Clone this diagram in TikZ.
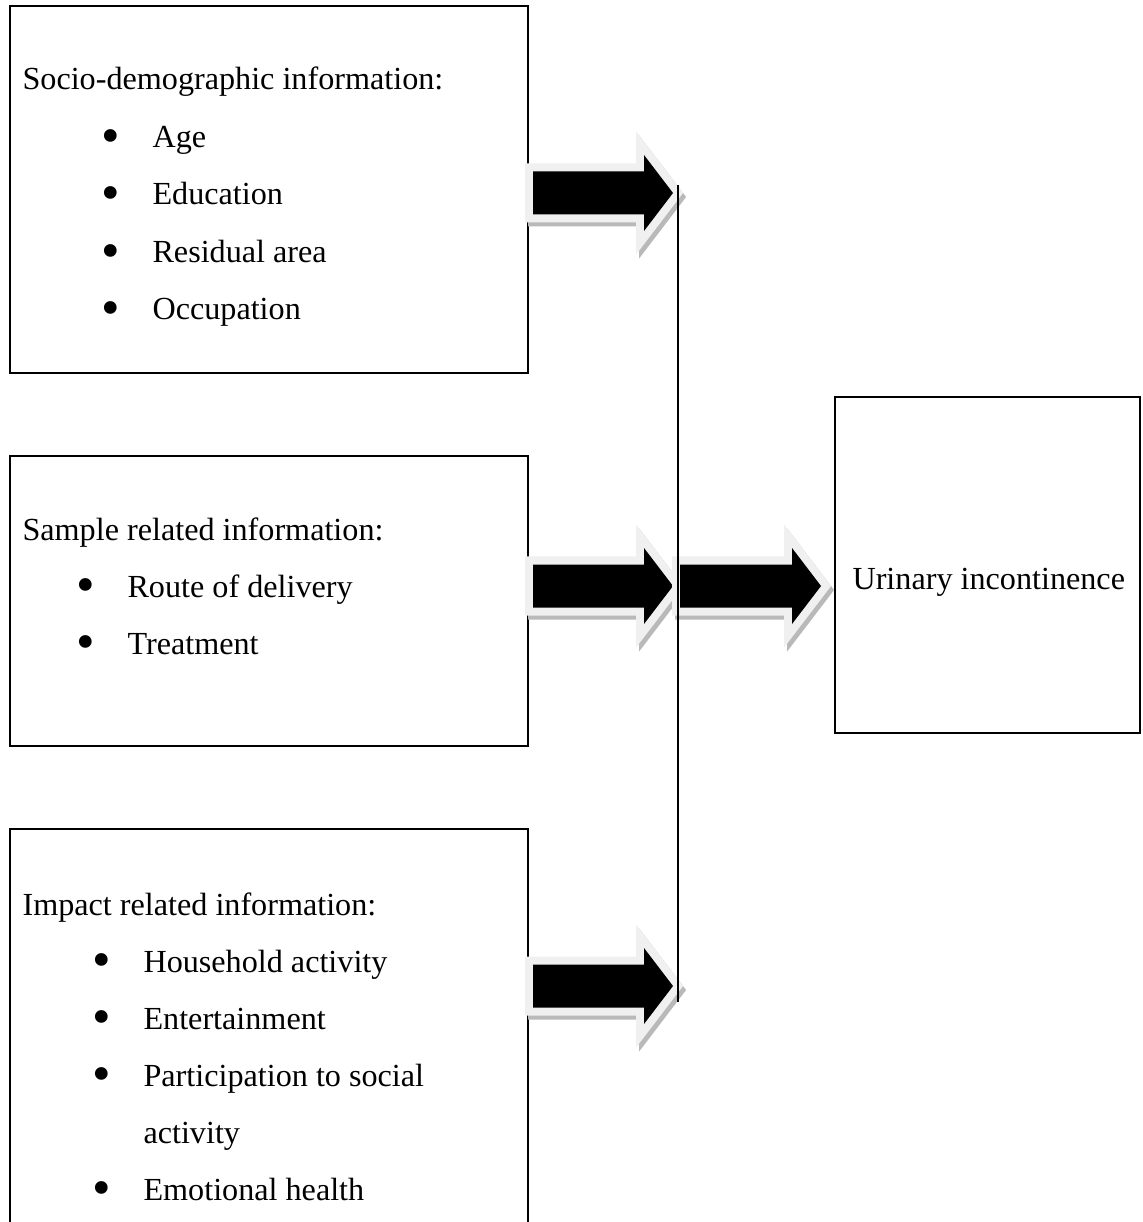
\documentclass[tikz,border=0pt]{standalone}
\usepackage{fontspec}
\setmainfont{Liberation Serif}
\usetikzlibrary{calc, fit, positioning}

% bullet hung in front of a list entry
\newcommand{\bul}{\llap{\raisebox{-2.2pt}{\scalebox{1.65}{\textbullet}}\hspace{12.2pt}}}
% outline of a fat block arrow from tail #1 to tip #2
\newcommand{\fatpath}[2]{($(#1)+(0,-21.5)$) -- ($(#2)+(-29,-21.5)$) -- ($(#2)+(-29,-38)$) -- (#2)
  -- ($(#2)+(-29,38)$) -- ($(#2)+(-29,21.5)$) -- ($(#1)+(0,21.5)$) -- cycle}
\newcommand{\fatarrow}[2]{%
  \draw[arrowshade] \fatpath{#1}{#2};
  \draw[arrowrim] \fatpath{#1}{#2};
  \fill[arrowbody] \fatpath{#1}{#2};
}

\begin{document}
\begin{tikzpicture}[x=0.373pt, y=-0.373pt, font=\fontsize{12}{14}\selectfont,
    box/.style={draw, line width=0.75pt, inner sep=0pt},
    txt/.style={anchor=base west, inner sep=0pt},
    arrowshade/.style={draw=gray!55, fill=gray!55, line width=5.97pt, line join=miter, transform canvas={shift={(3,4)}}},
    arrowrim/.style={draw=gray!12, fill=gray!12, line width=5.97pt, line join=miter},
    arrowbody/.style={fill=black},
    bar/.style={line width=0.7pt}]

  \useasboundingbox (0,0) rectangle (1142,1222);

  % boxes
  \node[box, fit={(10,6) (528,373)}]     (socio)  {};
  \node[box, fit={(10,456) (528,746)}]   (sample) {};
  \node[box, fit={(10,829) (528,1260)}]  (impact) {};
  \node[box, fit={(835,397) (1140,733)}] (ui)     {};

  % box texts
  \node[txt] (socio-t) at (22,90) {Socio-demographic information:};
  \foreach \lbl [count=\i] in {Age, Education, Residual area, Occupation}
    \node[txt] (socio-\i) at (152,{90+57.5*\i}) {\bul\lbl};

  \node[txt] (sample-t) at (22,540) {Sample related information:};
  \foreach \lbl [count=\i] in {Route of delivery, Treatment}
    \node[txt] (sample-\i) at (127,{540+57*\i}) {\bul\lbl};

  \node[txt] (impact-t) at (22,915) {Impact related information:};
  \foreach \b/\lbl [count=\i] in {1/Household activity, 1/Entertainment, 1/Participation to social, 0/activity, 1/Emotional health}
    \node[txt] (impact-\i) at (143,{915+57*\i}) {\ifnum\b=1 \bul\fi\lbl};

  \node[txt] (ui-t) at (852,589) {Urinary incontinence};

  % joining bar and arrow ends
  \coordinate (bartop) at (678,185);
  \coordinate (barbot) at (678,1002);
  \coordinate (t1) at (673,193);
  \coordinate (t2) at (673,586);
  \coordinate (t3) at (673,986);
  \coordinate (s1) at ($(socio.east |- t1)+(4,0)$);
  \coordinate (s2) at ($(sample.east |- t2)+(4,0)$);
  \coordinate (s3) at ($(impact.east |- t3)+(4,0)$);
  \coordinate (s4) at ($(t2)+(7,0)$);
  \coordinate (t4) at ($(ui.west |- t2)+(-13,0)$);

  \foreach \s/\t in {s1/t1, s2/t2, s3/t3, s4/t4} {
    \fatarrow{\s}{\t}
  }

  \draw[bar] (bartop) -- (barbot);
\end{tikzpicture}
\end{document}
